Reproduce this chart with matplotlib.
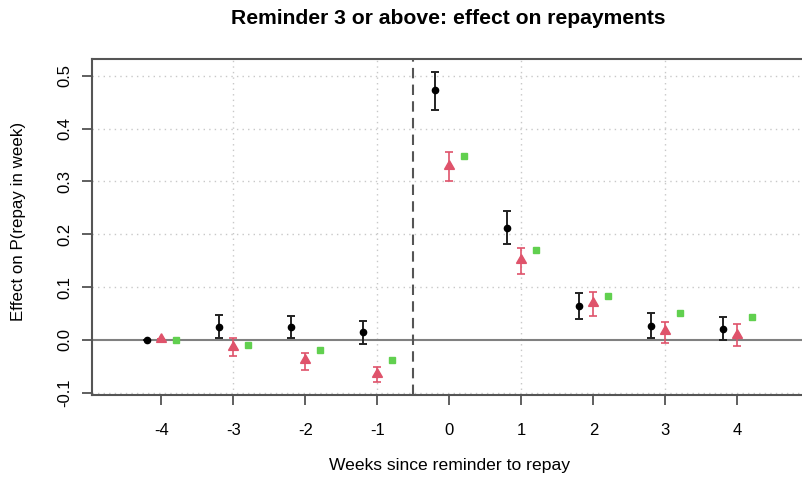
import numpy as np
import matplotlib
matplotlib.use("Agg")
import matplotlib.pyplot as plt

plt.rcParams['font.family'] = ['Liberation Sans', 'DejaVu Sans']

# weeks relative to the reminder
weeks = [-4, -3, -2, -1, 0, 1, 2, 3, 4]

# black series (shifted left by 0.2)
est_a = [0.000, 0.025, 0.024, 0.014, 0.472, 0.212, 0.064, 0.026, 0.021]
lo_a = [0.000, 0.004, 0.003, -0.008, 0.436, 0.181, 0.039, 0.003, 0.000]
hi_a = [0.000, 0.047, 0.045, 0.035, 0.507, 0.243, 0.089, 0.050, 0.044]

# red series (at the week itself)
est_b = [0.001, -0.013, -0.039, -0.064, 0.330, 0.151, 0.069, 0.016, 0.009]
lo_b = [0.001, -0.030, -0.057, -0.080, 0.301, 0.125, 0.046, -0.006, -0.011]
hi_b = [0.001, 0.003, -0.024, -0.052, 0.356, 0.173, 0.090, 0.034, 0.030]

# green series (shifted right by 0.2), no intervals
est_c = [0.000, -0.009, -0.020, -0.038, 0.348, 0.171, 0.083, 0.050, 0.043]

red = "#DF536B"
green = "#61D04F"

W, H = 803, 480
fig = plt.figure(figsize=(W / 100, H / 100), dpi=100)
ax = fig.add_axes([91.7 / W, 85 / H, 715.3 / W, 336 / H])

x = np.array(weeks, dtype=float)

# grid and reference lines
for gx in [-3, -1, 1, 3]:
    ax.axvline(gx, color="#c8c8c8", lw=1.0, ls=(0, (1, 3)), zorder=0)
for gy in [-0.1, 0.1, 0.2, 0.3, 0.4, 0.5]:
    ax.axhline(gy, color="#c8c8c8", lw=1.0, ls=(0, (1, 3)), zorder=0)
ax.axhline(0, color="#808080", lw=1.5, zorder=1)
ax.axvline(-0.5, color="#555555", lw=1.5, ls=(0, (5, 3)), zorder=1)

def bars(est, lo, hi):
    est = np.array(est)
    return np.vstack([est - np.array(lo), np.array(hi) - est])

ax.errorbar(x - 0.2, est_a, yerr=bars(est_a, lo_a, hi_a), fmt="o",
            color="black", ecolor="#222222", ms=4.5, elinewidth=1.4,
            capsize=3, capthick=1.4, zorder=3)
ax.errorbar(x, est_b, yerr=bars(est_b, lo_b, hi_b), fmt="none",
            ecolor=red, elinewidth=1.2, capsize=3, capthick=1.2, zorder=3)
ax.plot(x, est_b, ls="none", marker=(3, 0, 0), color=red, ms=8.3, zorder=4)
ax.plot(x + 0.2, est_c, "s", color=green, ms=5, zorder=3)

ax.set_xlim(-4.968, 4.968)
ax.set_ylim(-0.1044, 0.5316)
ax.set_xticks(weeks)
ax.set_xticklabels([str(w) for w in weeks])
ax.set_yticks([-0.1, 0.0, 0.1, 0.2, 0.3, 0.4, 0.5])
ax.set_yticklabels(["-0.1", "0.0", "0.1", "0.2", "0.3", "0.4", "0.5"],
                   rotation=90, va="center")

for s in ax.spines.values():
    s.set_color("#555555")
    s.set_linewidth(1.5)

ax.tick_params(axis="x", length=7.5, width=1.2, color="#444444",
               labelsize=12, pad=12.7)
ax.tick_params(axis="y", length=7.5, width=1.2, color="#444444",
               labelsize=12, pad=6.6)

ax.set_xlabel("Weeks since reminder to repay", fontsize=12.6, labelpad=14.5)
fig.text(18.5 / W, 1 - 221 / H, "Effect on P(repay in week)", rotation=90,
         ha="center", va="center", fontsize=12.2)
fig.text(448.5 / W, 1 - 18.5 / H, "Reminder 3 or above: effect on repayments",
         ha="center", va="center", fontsize=15.2, fontweight="bold")

fig.savefig("out.png", dpi=100)
